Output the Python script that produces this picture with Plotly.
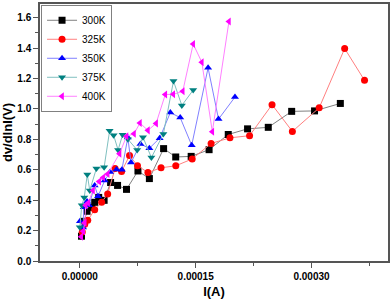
import plotly.graph_objects as go

# Data (I in units of 1e-5 A, dv/dlnI in V)
x300 = [0.22, 0.58, 0.94, 1.55, 1.93, 2.45, 3.15, 3.99, 4.89, 6.05, 7.53, 9.01, 10.85, 12.42, 14.42, 16.74, 19.22, 21.72, 24.40, 27.43, 30.39, 33.73]
y300 = [0.163, 0.261, 0.327, 0.353, 0.386, 0.418, 0.399, 0.516, 0.497, 0.471, 0.592, 0.542, 0.739, 0.684, 0.688, 0.732, 0.832, 0.869, 0.879, 0.984, 0.987, 1.036]

x325 = [0.32, 0.64, 1.03, 1.93, 2.83, 3.61, 4.57, 5.41, 6.44, 7.47, 8.82, 10.52, 12.43, 14.55, 17.00, 19.44, 21.98, 24.89, 27.52, 30.99, 34.29, 36.86]
y325 = [0.190, 0.242, 0.268, 0.337, 0.386, 0.441, 0.608, 0.588, 0.693, 0.627, 0.582, 0.613, 0.626, 0.671, 0.773, 0.810, 0.824, 1.028, 0.852, 1.007, 1.397, 1.188]

x350 = [0.02, 0.42, 0.52, 0.94, 1.20, 1.93, 2.36, 3.22, 3.93, 4.76, 5.45, 6.22, 6.63, 7.85, 9.01, 10.34, 11.72, 13.00, 14.49, 16.61, 17.96, 20.09]
y350 = [0.261, 0.220, 0.353, 0.392, 0.366, 0.497, 0.425, 0.529, 0.585, 0.601, 0.600, 0.812, 0.647, 0.769, 0.741, 0.808, 0.976, 0.943, 0.761, 1.270, 0.933, 1.078]

x375 = [0.00, 0.26, 0.58, 0.97, 1.29, 2.15, 3.15, 3.86, 4.38, 4.96, 5.54, 6.22, 7.43, 8.18, 9.27, 10.82, 12.13, 13.21, 14.68]
y375 = [0.222, 0.366, 0.418, 0.569, 0.464, 0.608, 0.616, 0.856, 0.827, 0.730, 0.830, 0.801, 0.730, 0.814, 0.680, 0.835, 1.183, 1.023, 1.124]

x400 = [0.19, 0.45, 0.64, 0.77, 1.09, 1.71, 2.51, 3.03, 3.61, 5.15, 6.05, 7.02, 7.79, 8.82, 9.88, 11.07, 12.10, 13.33, 14.68, 15.80, 17.16, 19.31]
y400 = [0.160, 0.196, 0.252, 0.366, 0.382, 0.464, 0.523, 0.549, 0.572, 0.706, 0.820, 0.837, 0.907, 0.859, 0.905, 1.095, 1.096, 1.116, 1.427, 1.307, 0.850, 1.575]

names = ["300K", "325K", "350K", "375K", "400K"]
xticks = [0.0, 0.00015, 0.00030]
xticklabels = ["0.00000", "0.00015", "0.00030"]

series = [
    (x300, y300, "square", "#000000", "#808080"),
    (x325, y325, "circle", "#ff0000", "#ff8080"),
    (x350, y350, "triangle-up", "#0000ff", "#8080ff"),
    (x375, y375, "triangle-down", "#008080", "#80c0c0"),
    (x400, y400, "triangle-left", "#ff00ff", "#ff80ff"),
]

fig = go.Figure()
for name, (xs, ys, sym, mc, lc) in zip(names, series):
    fig.add_trace(go.Scatter(
        x=[v * 1e-5 for v in xs], y=ys, name=name, mode="lines+markers",
        line=dict(color=lc, width=1),
        marker=dict(symbol=sym, color=mc, size=7),
    ))

fam = "Arial, Liberation Sans, sans-serif"
fig.update_layout(
    width=392, height=301,
    margin=dict(l=40, r=2, t=3, b=40),
    paper_bgcolor="white", plot_bgcolor="white",
    font=dict(family=fam, color="#000000"),
    showlegend=True,
    legend=dict(x=0.003, y=0.997, xanchor="left", yanchor="top",
                bgcolor="white", bordercolor="#808080", borderwidth=1,
                font=dict(size=10), tracegroupgap=0, itemwidth=30),
    xaxis=dict(
        range=[-0.0000515, 0.000399], tickvals=xticks, ticktext=xticklabels,
        showgrid=False, zeroline=False, showline=True, linecolor="#555555", linewidth=1.5,
        mirror=True, ticks="outside", ticklen=5, tickcolor="#555555",
        tickfont=dict(family=fam, size=10, color="#000000", weight="bold"),
        minor=dict(tickvals=[0.000075, 0.000225, 0.000375], ticks="outside", ticklen=3, tickcolor="#555555"),
        title=dict(text="<b>I(A)</b>", font=dict(size=13), standoff=6),
    ),
    yaxis=dict(
        range=[0, 1.69], dtick=0.2, tick0=0, tickformat=".1f",
        showgrid=False, zeroline=False, showline=True, linecolor="#555555", linewidth=1.5,
        mirror=True, ticks="outside", ticklen=5, tickcolor="#555555",
        tickfont=dict(family=fam, size=10, color="#000000", weight="bold"),
        minor=dict(dtick=0.1, ticks="outside", ticklen=3, tickcolor="#555555"),
        title=dict(text="<b>dv/dlnI(V)</b>", font=dict(size=13), standoff=6),
    ),
)

fig.write_html("out.html", config={"displayModeBar": False},
               post_script="document.body.style.margin='0';document.body.style.overflow='hidden';")
